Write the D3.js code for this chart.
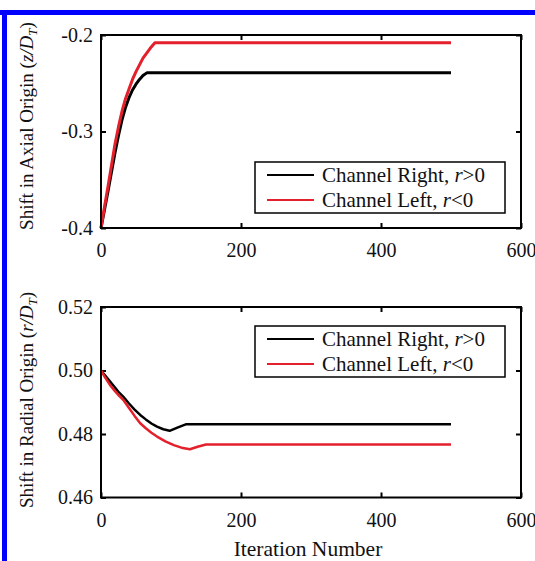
<!DOCTYPE html>
<html><head><meta charset="utf-8">
<script src="https://cdn.jsdelivr.net/npm/d3@7"></script>
<style>body{margin:0;background:#fff}svg{display:block}text{font-family:"Liberation Serif","Times New Roman",serif;fill:#111}</style>
</head><body><svg id="c" width="535" height="561"></svg>
<script>
// ---- data ----
const xTicks = [0, 200, 400, 600];
const axialTicks = [-0.4, -0.3, -0.2];
const axialTickLabels = ["-0.4", "-0.3", "-0.2"];
const radialTicks = [0.46, 0.48, 0.50, 0.52];
const radialTickLabels = ["0.46", "0.48", "0.50", "0.52"];
const seriesNames = ["Channel Right, ", "Channel Left, "];
const seriesSuffix = [">0", "<0"];
// Axial origin shift (z/D_T)
const axialRightX = [0, 5, 10, 15, 20, 25, 30, 35, 40, 45, 50, 55, 60, 66, 500];
const axialRightY = [-0.4, -0.381, -0.362, -0.342, -0.322, -0.304, -0.288, -0.275, -0.265, -0.257, -0.251, -0.246, -0.242, -0.239, -0.239];
const axialLeftX = [0, 5, 10, 15, 20, 25, 30, 35, 40, 45, 50, 55, 60, 65, 70, 77, 500];
const axialLeftY = [-0.4, -0.378, -0.357, -0.335, -0.313, -0.295, -0.279, -0.266, -0.256, -0.246, -0.238, -0.231, -0.224, -0.219, -0.214, -0.208, -0.208];
// Radial origin shift (r/D_T)
const radialRightX = [0, 6, 13, 20, 26, 32, 40, 48, 56, 64, 72, 80, 89, 98, 110, 122, 500];
const radialRightY = [0.500, 0.4984, 0.4965, 0.4946, 0.493, 0.4917, 0.4896, 0.4877, 0.486, 0.4846, 0.4833, 0.4823, 0.4815, 0.481, 0.4821, 0.4831, 0.4831];
const radialLeftX = [0, 6, 13, 20, 26, 32, 40, 48, 56, 64, 72, 80, 92, 104, 115, 127, 138, 150, 500];
const radialLeftY = [0.500, 0.4978, 0.4954, 0.4935, 0.492, 0.4907, 0.4882, 0.4857, 0.4834, 0.4818, 0.4804, 0.4792, 0.4777, 0.4765, 0.4757, 0.4752, 0.476, 0.4767, 0.4767];

const colors = ["#000000", "#e3202c"];
const svg = d3.select("#c");
svg.append("rect").attr("width", 535).attr("height", 561).attr("fill", "#fff");
// blue frame
svg.append("rect").attr("x", 0).attr("y", 10).attr("width", 535).attr("height", 5).attr("fill", "#0000ff");
svg.append("rect").attr("x", 2).attr("y", 10).attr("width", 5).attr("height", 551).attr("fill", "#0000ff");

const x = d3.scaleLinear().domain([0, 600]).range([101, 521]);

function panel(cfg) {
  const y = d3.scaleLinear().domain(cfg.domain).range([cfg.bottom, cfg.top]);
  const g = svg.append("g");
  const tk = 5;
  const ax = (gen, tr, labels, pad) => {
    const a = g.append("g").attr("transform", tr).call(gen.tickSize(-tk).tickPadding(pad));
    a.select(".domain").remove();
    a.selectAll(".tick line").attr("stroke", "#000").attr("stroke-width", 2);
    a.selectAll("text").style("font-size", "20px").attr("fill", "#111");
    if (!labels) a.selectAll("text").remove();
    return a;
  };
  ax(d3.axisBottom(x).tickValues(xTicks).tickFormat(d3.format("d")), `translate(0,${cfg.bottom})`, true, 15);
  ax(d3.axisTop(x).tickValues(xTicks), `translate(0,${cfg.top})`, false, 3);
  ax(d3.axisLeft(y).tickValues(cfg.ticks).tickFormat((d, i) => cfg.labels[i]), `translate(${x.range()[0]},0)`, true, 8);
  ax(d3.axisRight(y).tickValues(cfg.ticks), `translate(${x.range()[1]},0)`, false, 3);
  // lines
  const line = d3.line().x(d => x(d[0])).y(d => y(d[1]));
  cfg.series.forEach((s, i) => {
    g.append("path").datum(s[0].map((v, k) => [v, s[1][k]]))
      .attr("d", line).attr("fill", "none").attr("stroke", colors[i])
      .attr("stroke-width", cfg.lw).attr("stroke-linejoin", "round");
  });
  // box
  g.append("rect").attr("x", x.range()[0]).attr("y", cfg.top)
    .attr("width", x.range()[1] - x.range()[0]).attr("height", cfg.bottom - cfg.top)
    .attr("fill", "none").attr("stroke", "#000").attr("stroke-width", 2);
  // legend
  const lg = g.append("g");
  lg.append("rect").attr("x", 255).attr("y", cfg.legY).attr("width", 250).attr("height", 51)
    .attr("fill", "#fff").attr("stroke", "#000").attr("stroke-width", 1.5);
  seriesNames.forEach((nm, i) => {
    const ry = cfg.legY + 13 + i * 25;
    lg.append("line").attr("x1", 267).attr("x2", 314).attr("y1", ry).attr("y2", ry)
      .attr("stroke", colors[i]).attr("stroke-width", 2);
    const t = lg.append("text").attr("x", 322).attr("y", ry + 7).style("font-size", "21px");
    t.append("tspan").text(nm);
    t.append("tspan").attr("font-style", "italic").text("r");
    t.append("tspan").text(seriesSuffix[i]);
  });
  // y title
  const yt = g.append("text").attr("transform", `translate(${cfg.titleX},${cfg.titleY}) rotate(-90)`)
    .attr("text-anchor", "middle").style("font-size", "19px");
  yt.append("tspan").text(cfg.title);
  yt.append("tspan").attr("font-style", "italic").text(cfg.var + "/D");
  yt.append("tspan").attr("font-style", "italic").attr("dy", 4).style("font-size", "13px").text("T");
  yt.append("tspan").attr("dy", -4).text(")");
}

panel({domain: [-0.4, -0.2], top: 35, bottom: 228, ticks: axialTicks, labels: axialTickLabels,
  series: [[axialRightX, axialRightY], [axialLeftX, axialLeftY]], lw: 3, legY: 162,
  title: "Shift in Axial Origin (", var: "z", titleX: 33, titleY: 126});
panel({domain: [0.46, 0.52], top: 307, bottom: 497.5, ticks: radialTicks, labels: radialTickLabels,
  series: [[radialRightX, radialRightY], [radialLeftX, radialLeftY]], lw: 2.5, legY: 326,
  title: "Shift in Radial Origin (", var: "r", titleX: 33, titleY: 400});

svg.append("text").attr("x", 308).attr("y", 556).attr("text-anchor", "middle")
  .style("font-size", "21.5px").text("Iteration Number");
</script></body></html>
